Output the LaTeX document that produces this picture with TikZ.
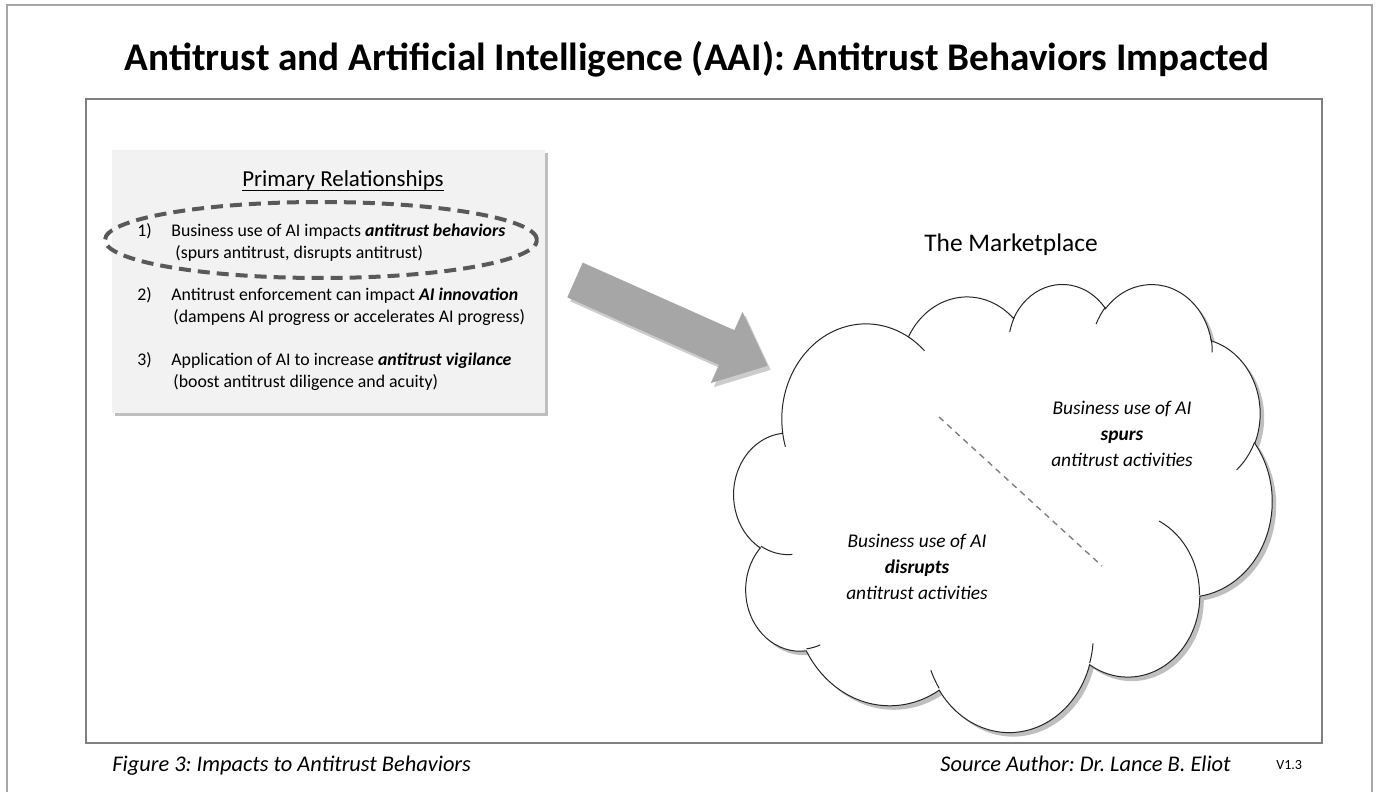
\documentclass[tikz,border=0pt]{standalone}
\usepackage{fontspec}
\setmainfont{Carlito}
\usetikzlibrary{shapes.geometric,shadows}
\frenchspacing

\definecolor{boxgray}{HTML}{F2F2F2}
\definecolor{arrowgray}{HTML}{A6A6A6}
\definecolor{ringgray}{HTML}{595959}
\definecolor{framegray}{HTML}{7F7F7F}
\definecolor{edgegray}{HTML}{A6A6A6}

\tikzset{
  listline/.style={anchor=base west, inner sep=0pt, font=\fontsize{8.9}{10}\selectfont},
  cloudtext/.style={align=center, inner sep=0pt, font=\fontsize{9.7}{13}\selectfont\itshape},
  footnote/.style={anchor=base west, inner sep=0pt, font=\fontsize{11.2}{13}\selectfont\itshape},
  softshadow/.style={drop shadow={shadow xshift=1.5pt, shadow yshift=-1.5pt, opacity=0.25, fill=black}},
}

% one bump of the cloud: x radius, y radius, start and sweep (visual angles)
\newcommand\cloudarc[4]{arc[x radius=#1, y radius=#2,
  start angle={atan2(#1*sin(#3),#2*cos(#3))},
  delta angle={mod(atan2(#1*sin(#3+#4),#2*cos(#3+#4))-atan2(#1*sin(#3),#2*cos(#3))+720,360)}]}

\begin{document}
\begin{tikzpicture}[x=0.5pt, y=-0.5pt]
  \fill[white] (0,0) rectangle (1378,792);
  \useasboundingbox (0,0) rectangle (1378,792);

  % frames
  \draw[edgegray, line width=1pt] (7,792) -- (7,5) -- (1372,5) -- (1372,792);
  \draw[framegray, line width=0.8pt] (86,99) rectangle (1322,743);

  \node (title) [anchor=base, inner sep=0pt, font=\fontsize{19.6}{22}\selectfont\bfseries]
    at (697,71) {Antitrust and Artificial Intelligence (AAI): Antitrust Behaviors Impacted};

  % relationships box
  \node (relbox) [anchor=north west, fill=boxgray, softshadow, inner sep=0pt,
    minimum width=216.5pt, minimum height=131.5pt] at (112,150) {};
  \node (head) [anchor=base, inner sep=0pt, font=\fontsize{11.45}{13}\selectfont]
    at (343,187) {Primary Relationships};
  \draw[line width=0.4pt] ([yshift=-1.6pt]head.base west) -- ([yshift=-1.6pt]head.base east);

  \node (n1) [listline] at (137,236) {1)};
  \node (t1) [listline] at (171,236) {Business use of AI impacts \textbf{\textit{antitrust behaviors}}};
  \node (s1) [listline] at (175,258) {(spurs antitrust, disrupts antitrust)};
  \node (n2) [listline] at (137,300) {2)};
  \node (t2) [listline] at (171,300) {Antitrust enforcement can impact \textbf{\textit{AI innovation}}};
  \node (s2) [listline] at (173,322) {(dampens AI progress or accelerates AI progress)};
  \node (n3) [listline] at (137,365) {3)};
  \node (t3) [listline] at (171,365) {Application of AI to increase \textbf{\textit{antitrust vigilance}}};
  \node (s3) [listline] at (173,387) {(boost antitrust diligence and acuity)};

  \node (ring) [ellipse, draw=ringgray, line width=2pt, dash pattern=on 6pt off 3.5pt,
    inner sep=0pt, minimum width=216pt, minimum height=38pt] at (321,240) {};

  % big arrow, with its shadow first
  \fill[black, opacity=0.2] (585.7,266.6) -- (737.4,334.2) -- (745.5,315.9) -- (770.7,369.8)
    -- (713.8,387.1) -- (721.9,368.9) -- (570.3,301.4) -- cycle;
  \fill[arrowgray] (582.7,262.6) -- (734.4,330.2) -- (742.5,311.9) -- (767.7,365.8)
    -- (710.8,383.1) -- (718.9,364.9) -- (567.3,297.4) -- cycle;

  \node (market) [anchor=base, inner sep=0pt, font=\fontsize{12.7}{15}\selectfont]
    at (1011,251) {The Marketplace};

  % the cloud
  \begin{scope}[shift={(734,283)}, x=0.6227pt, y=-0.5185pt]
    \draw[black!85, line width=0.5pt, fill=white,
      drop shadow={shadow xshift=2pt, shadow yshift=-2pt, opacity=0.25, fill=black}]
      (39,143.7) \cloudarc{67.53}{91.90}{-190.4875}{123.7805}
      \cloudarc{53.33}{72.67}{-144.1024}{89.9452}
      \cloudarc{43.65}{59.45}{-145.8079}{99.7230}
      \cloudarc{48.57}{65.95}{-130.9861}{117.2417}
      \cloudarc{53.33}{72.73}{-78.7089}{109.0269}
      \cloudarc{67.75}{92.20}{-46.2673}{130.2690}
      \cloudarc{57.85}{78.67}{0.6250}{114.0333}
      \cloudarc{67.52}{92.15}{22.4516}{115.1726}
      \cloudarc{77.20}{105.43}{66.2426}{75.7110}
      \cloudarc{43.60}{59.18}{-274.9421}{146.7356}
      \cloudarc{43.45}{59.45}{-246.8285}{152.5189} -- cycle;
    \draw[black!85, line width=0.5pt]
      (46.93,261.77) \cloudarc{43.45}{59.45}{86.7420}{26.4295}
      (69.28,348.99) \cloudarc{43.60}{59.18}{73.6105}{11.4475}
      (164.78,390.90) \cloudarc{67.52}{92.15}{137.6242}{14.0811}
      (288.27,347.51) \cloudarc{67.52}{92.15}{6.4533}{15.9984}
      (341.29,229.54) \cloudarc{57.85}{78.67}{-70.2924}{70.9174}
      (417.98,153.54) \cloudarc{53.33}{72.73}{30.3180}{27.7515}
      (383.24,54.26) \cloudarc{48.57}{65.95}{-13.7443}{14.8589}
      (290.78,39.52) \cloudarc{48.57}{65.95}{-149.1815}{18.1954}
      (221.41,47.20) \cloudarc{43.65}{59.45}{-163.4943}{17.6864}
      (140.00,51.92) \cloudarc{67.53}{91.90}{-66.7070}{12.3194}
      (41.27,157.89) \cloudarc{67.53}{91.90}{157.6544}{11.8582};
  \end{scope}

  \coordinate (dashtop) at (939,417);
  \coordinate (dashbot) at (1102,566);
  \draw[gray, line width=0.7pt, dash pattern=on 3pt off 2.5pt] (dashtop) -- (dashbot);

  \node (spurs) [cloudtext] at (1122,434) {Business use of AI\\\textbf{spurs}\\antitrust activities};
  \node (disrupts) [cloudtext] at (917,567) {Business use of AI\\\textbf{disrupts}\\antitrust activities};

  % footer
  \node (fig) [footnote] at (112,771) {Figure 3: Impacts to Antitrust Behaviors};
  \node (src) [footnote] at (940,771) {Source Author: Dr. Lance B. Eliot};
  \node (ver) [anchor=base west, inner sep=0pt, font=\fontsize{7}{8}\selectfont] at (1276,769) {V1.3};
\end{tikzpicture}
\end{document}
